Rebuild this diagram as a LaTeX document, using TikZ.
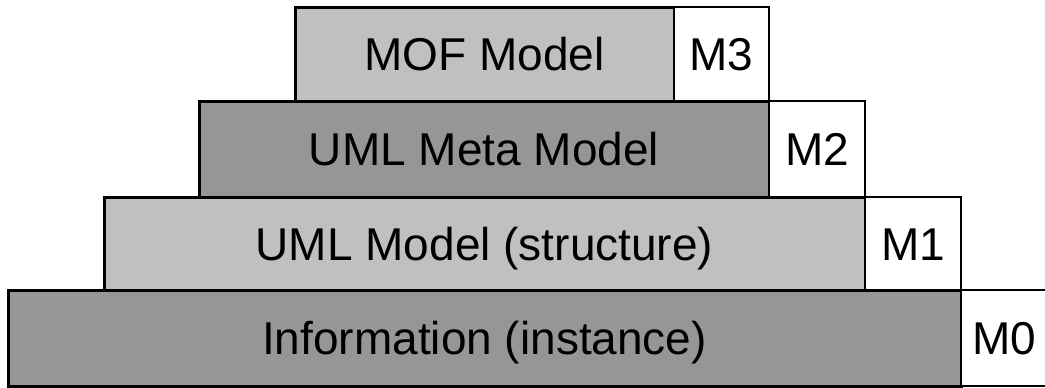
\documentclass[tikz,border=0pt]{standalone}
\usepackage{fontspec}
\setmainfont{Liberation Sans}
\definecolor{lightg}{HTML}{C0C0C0}
\definecolor{darkg}{HTML}{969696}
\begin{document}
\begin{tikzpicture}[x=1pt,y=-1pt,
  layer/.style={draw=black,line width=3pt,rectangle,inner sep=0pt,outer sep=0pt,
    font=\fontsize{46}{46}\selectfont,text height=33pt,text depth=0pt},
  lbox/.style={draw=black,line width=2pt,fill=white,rectangle,inner sep=0pt,outer sep=0pt,
    font=\fontsize{46}{46}\selectfont,text height=33pt,text depth=0pt}]
\useasboundingbox (0,0) rectangle (1045,388);
% row 1
\node[layer,fill=lightg,minimum width=379pt,minimum height=94pt] (mof) at (484.5,54) {MOF Model};
\node[lbox,minimum width=95pt,minimum height=94pt] (m3) at (721.5,54) {M3};
% row 2
\node[layer,fill=darkg,minimum width=570pt,minimum height=96pt] (meta) at (484,149) {UML Meta Model};
\node[lbox,minimum width=96pt,minimum height=96pt] (m2) at (817,149) {M2};
% row 3
\node[layer,fill=lightg,minimum width=761pt,minimum height=93pt] (uml) at (484.5,243.5) {UML Model (structure)};
\node[lbox,minimum width=96pt,minimum height=93pt] (m1) at (913,243.5) {M1};
% row 4
\node[layer,fill=darkg,minimum width=953pt,minimum height=96pt] (info) at (484.5,338) {Information (instance)};
\node[lbox,minimum width=87pt,minimum height=96pt] (m0) at (1004.5,338) {M0};
\end{tikzpicture}
\end{document}
